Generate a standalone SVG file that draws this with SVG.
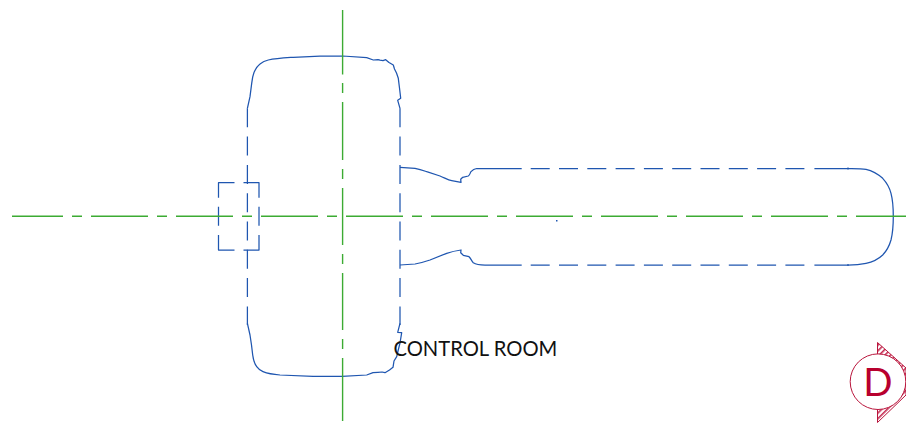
<svg xmlns="http://www.w3.org/2000/svg" width="906" height="423" viewBox="0 0 906 423">
<style>
.b{fill:none;stroke:#1f56b0;stroke-width:1.25;stroke-linejoin:round}
.d{stroke-dasharray:19 9.3}
.g{fill:none;stroke:#3cab33;stroke-width:1.4}
.r{stroke:#b9153c;stroke-width:1}
text{font-family:Lato,"Open Sans",sans-serif}
</style>
<defs>
<pattern id="h" width="4" height="4" patternUnits="userSpaceOnUse" patternTransform="rotate(-45)">
<rect width="4" height="1.6" fill="#c4274f"/>
</pattern>
</defs>
<g id="outline">
<path class="b" d="M247.4 108.3L250 96.7L251.7 83.3C252.3 78 253 75 254 72.5C256 68 258 65.5 260 64C263 61.5 265 60.7 268.3 60C276 58.5 284 58 293.3 57.3L320 56.2L342.7 56L366.7 57.7L373.3 60L378 59.6L380 60.2L383 60.7L385.7 59.7L389 62.5L393.3 65L394.5 69L396.5 73L398.3 78.3L399.5 88L400.7 98.3L397.7 100.3L400 108.3"/>
<path class="b d" d="M247.4 108.3V325"/>
<path class="b d" d="M400 108.3V325"/>
<path class="b" d="M247.4 323.3L250 335L251.5 345L252.7 355C253.5 361 255 364.5 256.7 366.7C258.5 369.2 260.5 370.7 263 371.7C268 373.7 273 374.5 280 375L313 376.3L342 376.3L366.7 375L373 372.7L378 372.3L382 372L385 372.7L389.5 370L393 367.3L394 361L396.7 356.7L398.5 349L400 343L401.7 332.7L397.7 332.3L400 323.3"/>
<path class="b" d="M400 167.3L415 168.3C421 169.3 424 170.7 426.7 171.7L440 176C445 178 448 180 451.7 180.7L461 182.3L460.7 179.3L462.7 177.3L468.3 176C470 175 470 173 471 171.7C473 169.5 474.5 168.8 476.7 168.5L485 168.5H521.7"/>
<path class="b" d="M400 265L415 264C421 263 425 261.7 430 260L446.7 253.3C452 251.5 456 250.7 461 250L460.7 252.7L463.3 255.3L469 256.7C471 258.5 471.5 261 473.3 262.7C476 264.5 479 265 485 265H521.7"/>
<path class="b d" d="M530.7 168.5H806"/>
<path class="b d" d="M530.7 265H806"/>
<path class="b" d="M814.4 168.5H848C855 168.6 861 168.5 866 169.3C873 170.8 878 174 882.7 178.3C887 183 889.7 188 891 193.3C892.8 200 893.3 208 893.3 216.7C893.3 225 892.7 233 891 240C889.3 246 886.5 251 882.7 255C878 259.5 873 262 866 263.3C860 264.6 855 265 848 265H814.4"/>
<path class="b" d="M848 167.5V169.5M848 264V266"/>
<rect x="556" y="220" width="1.5" height="1.5" fill="#1f56b0"/>
</g>
<g id="flange">
<path class="b" d="M218.5 197.7V182.7H234.5M243.5 182.7H259V197.7M259 206.7V225.7M259 235V250H243.5M234.5 250H218.5V235M218.5 225.7V206.7"/>
</g>
<g id="centerlines">
<path class="g" d="M12 216.3H906" stroke-dasharray="57 9 10 9" stroke-dashoffset="6"/>
<path class="g" d="M342.6 10V74.5M342.6 83V93M342.6 102V160M342.6 169V179M342.6 188V245M342.6 254V264M342.6 273V330M342.6 339V349M342.6 358V421"/>
</g>
<text id="label" x="393.5" y="355.5" font-size="20.2" fill="#111">CONTROL ROOM</text>
<g id="section-d">
<path class="r" fill="url(#h)" d="M877.5 342.5L906 368V395L877.5 422.5Z"/>
<circle class="r" cx="878" cy="381.7" r="27.8" fill="#fff"/>
<text x="878" y="396.3" font-size="38.5" text-anchor="middle" fill="#b8002e">D</text>
</g>
</svg>
